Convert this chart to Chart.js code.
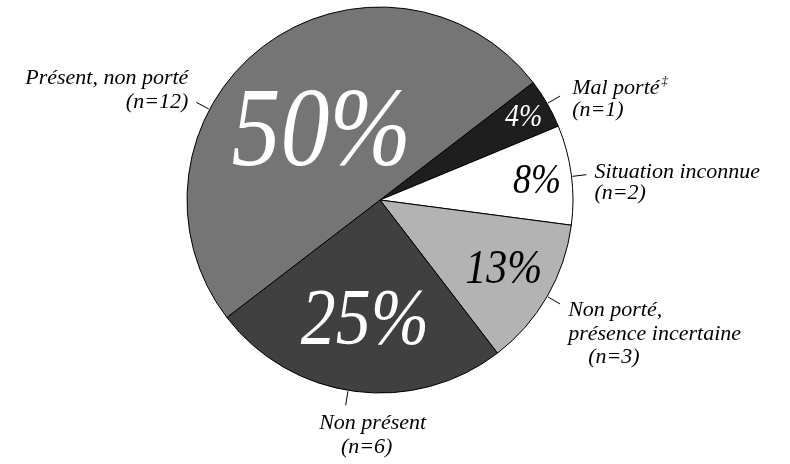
<!DOCTYPE html>
<html>
<head>
<meta charset="utf-8">
<script src="https://cdn.jsdelivr.net/npm/chart.js@4"></script>
<style>
  html, body { margin: 0; padding: 0; background: #fff; }
  #wrap { width: 790px; height: 464px; position: relative; }
  #warm { position: absolute; left: -1000px; top: 0; font: italic 22px "Liberation Serif"; }
</style>
</head>
<body>
<div id="wrap"><canvas id="pieChart" width="790" height="464"></canvas></div>
<span id="warm">Présent 50%</span>
<script>
// data, clockwise from the upper right
const categories = ["Mal porté", "Situation inconnue", "Non porté,|présence incertaine", "Non présent", "Présent, non porté"];
const counts = [1, 2, 3, 6, 12];
const sliceColors = ["#1e1e1e", "#ffffff", "#b3b3b3", "#404040", "#757575"];
const pctColors = ["#ffffff", "#000000", "#000000", "#ffffff", "#ffffff"];

const FONT = '"Liberation Serif", "Times New Roman", Times, serif';

// where the percent sits (fraction of radius), its size and a small nudge down
const pctLayout = [
  { r: 0.86, size: 28, dy: 1 },
  { r: 0.82, size: 36, dy: 3 },
  { r: 0.74, size: 42, dy: -1 },
  { r: 0.6, size: 70, dy: 8 },
  { r: 0.5, size: 98, dy: 12 },
];

// leader line angle (deg, math) and text placement relative to leader end
const outLayout = [
  { ang: 30, align: "left", lines: [[12, -8], [12, 14]] },
  { ang: 7, align: "left", lines: [[8, -2], [8, 19]] },
  { ang: -30, align: "left", lines: [[8, 6], [8, 30], [28, 53]] },
  { ang: -99.5, align: "center", lines: [[27, 18], [21, 42]] },
  { ang: 152, align: "right", lines: [[-8, -24], [-8, 0]] },
];

const labelsPlugin = {
  id: "pieLabels",
  afterDatasetsDraw(chart) {
    const ctx = chart.ctx;
    const meta = chart.getDatasetMeta(0);
    const total = counts.reduce((a, b) => a + b, 0);
    ctx.save();
    meta.data.forEach((arc, i) => {
      const { x, y, startAngle, endAngle, outerRadius } = arc.getProps(["x", "y", "startAngle", "endAngle", "outerRadius"], true);
      const mid = (startAngle + endAngle) / 2;
      // percentage inside (a bit taller, like the original typeface)
      const pl = pctLayout[i];
      const pct = Math.round((counts[i] / total) * 100) + "%";
      const px = x + Math.cos(mid) * outerRadius * pl.r;
      const py = y + Math.sin(mid) * outerRadius * pl.r + pl.dy;
      ctx.save();
      ctx.translate(px, py);
      ctx.scale(1, 1.15);
      ctx.font = "italic " + pl.size + "px " + FONT;
      ctx.fillStyle = pctColors[i];
      ctx.textAlign = "center";
      ctx.textBaseline = "middle";
      ctx.fillText(pct, 0, 0);
      ctx.restore();

      // leader line + outside label
      const ol = outLayout[i];
      const a = (-ol.ang * Math.PI) / 180;
      const ex = x + Math.cos(a) * (outerRadius + 15);
      const ey = y + Math.sin(a) * (outerRadius + 15);
      ctx.strokeStyle = "#000";
      ctx.lineWidth = 1;
      ctx.beginPath();
      ctx.moveTo(x + Math.cos(a) * (outerRadius + 1), y + Math.sin(a) * (outerRadius + 1));
      ctx.lineTo(ex, ey);
      ctx.stroke();

      const texts = categories[i].split("|").concat(["(n=" + counts[i] + ")"]);
      ctx.fillStyle = "#000";
      ctx.textAlign = ol.align;
      ctx.textBaseline = "middle";
      texts.forEach((t, j) => {
        const [dx, dy] = ol.lines[j];
        ctx.font = "italic 22px " + FONT;
        ctx.fillText(t, ex + dx, ey + dy);
        if (i === 0 && j === 0) {
          const w = ctx.measureText(t).width;
          ctx.font = "italic 13px " + FONT;
          ctx.textAlign = "left";
          ctx.fillText("‡", ex + dx + w + 2, ey + dy - 6);
          ctx.textAlign = ol.align;
        }
      });
    });
    ctx.restore();
  },
};

function drawChart() {
  new Chart(document.getElementById("pieChart"), {
    type: "pie",
    data: {
      labels: categories,
      datasets: [
        {
          data: counts,
          backgroundColor: sliceColors,
          borderColor: "#000",
          borderWidth: 1,
          radius: 193,
        },
      ],
    },
    options: {
      responsive: false,
      animation: false,
      rotation: 52.5,
      layout: { padding: { left: 0, right: 30, top: 0, bottom: 64 } },
      plugins: {
        legend: { display: false },
        tooltip: { enabled: false },
      },
    },
    plugins: [labelsPlugin],
  });
}

document.fonts.load('italic 22px "Liberation Serif"').then(drawChart, drawChart);
</script>
</body>
</html>
